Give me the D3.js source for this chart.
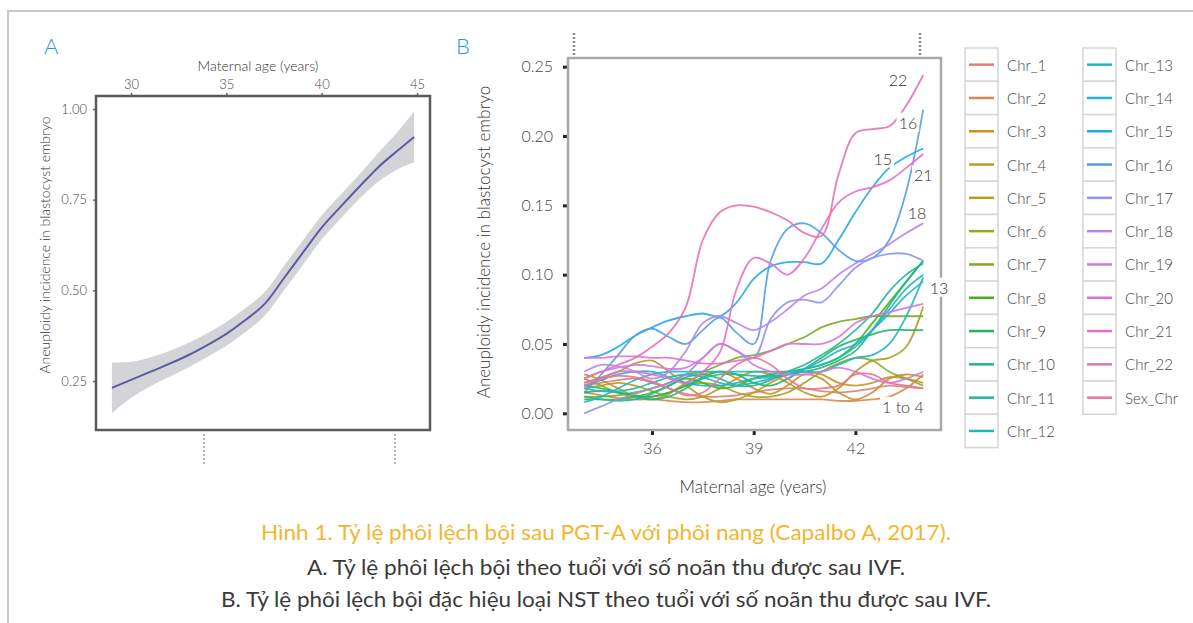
<!DOCTYPE html>
<html>
<head>
<meta charset="utf-8">
<script src="https://cdn.jsdelivr.net/npm/d3@7/dist/d3.min.js"></script>
<style>
  body { margin: 0; background: #fff; }
  text { font-family: Lato, 'Open Sans', sans-serif; }
</style>
</head>
<body>
<svg id="fig"></svg>
<script>
const width = 1193;
const height = 623;

// ---- panel A data (overall aneuploidy vs maternal age) ----
const agesA = [29, 30, 31, 32, 33, 34, 35, 36, 37, 38, 39, 40, 41, 42, 43, 44, 44.85];
const rateA = [0.231, 0.253, 0.275, 0.297, 0.321, 0.349, 0.380, 0.418, 0.462, 0.532, 0.603, 0.673, 0.731, 0.787, 0.841, 0.886, 0.923];
const bandA = [0.070, 0.050, 0.040, 0.036, 0.034, 0.033, 0.033, 0.033, 0.033, 0.034, 0.034, 0.033, 0.033, 0.034, 0.040, 0.052, 0.070];
const ticksAx = [30, 35, 40, 45];
const ticksAy = [0.25, 0.50, 0.75, 1.00];

// ---- panel B data (chromosome specific aneuploidy) ----
const agesB = [34, 34.5, 35, 35.5, 36, 36.5, 37, 37.5, 38, 38.5, 39, 39.5, 40, 40.5, 41, 41.5, 42, 42.5, 43, 43.5, 44];
const chr1  = [0.020, 0.022, 0.024, 0.025, 0.022, 0.018, 0.014, 0.012, 0.012, 0.013, 0.015, 0.017, 0.018, 0.018, 0.016, 0.015, 0.016, 0.018, 0.020, 0.019, 0.018];
const chr2  = [0.015, 0.013, 0.011, 0.010, 0.010, 0.009, 0.008, 0.008, 0.009, 0.010, 0.010, 0.010, 0.010, 0.010, 0.010, 0.009, 0.009, 0.010, 0.012, 0.018, 0.028];
const chr3  = [0.028, 0.024, 0.018, 0.012, 0.010, 0.014, 0.022, 0.028, 0.030, 0.025, 0.018, 0.014, 0.020, 0.028, 0.025, 0.015, 0.010, 0.015, 0.025, 0.028, 0.026];
const chr4  = [0.022, 0.026, 0.030, 0.036, 0.038, 0.030, 0.020, 0.012, 0.008, 0.010, 0.015, 0.022, 0.028, 0.030, 0.028, 0.022, 0.020, 0.022, 0.026, 0.025, 0.022];
const chr5  = [0.018, 0.020, 0.022, 0.020, 0.016, 0.012, 0.010, 0.012, 0.018, 0.025, 0.030, 0.028, 0.022, 0.015, 0.012, 0.018, 0.030, 0.038, 0.040, 0.048, 0.077];
const chr6  = [0.025, 0.020, 0.015, 0.012, 0.012, 0.015, 0.020, 0.022, 0.020, 0.015, 0.012, 0.012, 0.015, 0.022, 0.030, 0.036, 0.040, 0.038, 0.030, 0.025, 0.020];
const chr7  = [0.012, 0.012, 0.013, 0.015, 0.018, 0.022, 0.028, 0.030, 0.035, 0.040, 0.042, 0.045, 0.050, 0.055, 0.062, 0.066, 0.068, 0.070, 0.070, 0.070, 0.070];
const chr8  = [0.010, 0.010, 0.010, 0.012, 0.015, 0.020, 0.025, 0.022, 0.018, 0.020, 0.025, 0.028, 0.030, 0.032, 0.035, 0.040, 0.050, 0.065, 0.080, 0.095, 0.110];
const chr9  = [0.015, 0.016, 0.015, 0.013, 0.012, 0.015, 0.020, 0.026, 0.030, 0.028, 0.022, 0.020, 0.025, 0.032, 0.040, 0.048, 0.053, 0.057, 0.060, 0.060, 0.060];
const chr10 = [0.020, 0.018, 0.015, 0.012, 0.010, 0.012, 0.018, 0.025, 0.028, 0.028, 0.027, 0.027, 0.028, 0.030, 0.033, 0.038, 0.045, 0.060, 0.078, 0.095, 0.110];
const chr11 = [0.012, 0.010, 0.009, 0.010, 0.014, 0.020, 0.026, 0.028, 0.025, 0.020, 0.020, 0.024, 0.030, 0.035, 0.042, 0.050, 0.060, 0.072, 0.088, 0.100, 0.108];
const chr12 = [0.018, 0.016, 0.016, 0.018, 0.022, 0.026, 0.028, 0.026, 0.022, 0.020, 0.022, 0.025, 0.028, 0.032, 0.035, 0.040, 0.048, 0.060, 0.075, 0.090, 0.100];
const chr13 = [0.008, 0.012, 0.018, 0.024, 0.028, 0.030, 0.030, 0.030, 0.030, 0.030, 0.030, 0.030, 0.030, 0.030, 0.030, 0.035, 0.040, 0.042, 0.050, 0.070, 0.098];
const chr14 = [0.020, 0.024, 0.028, 0.030, 0.030, 0.026, 0.022, 0.020, 0.020, 0.022, 0.025, 0.026, 0.028, 0.032, 0.038, 0.045, 0.050, 0.060, 0.072, 0.085, 0.095];
const chr15 = [0.040, 0.042, 0.048, 0.056, 0.062, 0.067, 0.070, 0.072, 0.070, 0.080, 0.097, 0.106, 0.109, 0.109, 0.108, 0.125, 0.145, 0.163, 0.177, 0.185, 0.191];
const chr16 = [0.015, 0.028, 0.042, 0.056, 0.061, 0.055, 0.050, 0.060, 0.069, 0.058, 0.050, 0.110, 0.133, 0.137, 0.130, 0.118, 0.110, 0.112, 0.125, 0.160, 0.219];
const chr17 = [0.000, 0.005, 0.010, 0.014, 0.018, 0.022, 0.028, 0.040, 0.050, 0.045, 0.040, 0.068, 0.080, 0.082, 0.080, 0.092, 0.105, 0.112, 0.115, 0.115, 0.110];
const chr18 = [0.030, 0.035, 0.034, 0.030, 0.025, 0.030, 0.045, 0.065, 0.070, 0.065, 0.060, 0.066, 0.075, 0.085, 0.090, 0.100, 0.108, 0.115, 0.122, 0.130, 0.137];
const chr19 = [0.025, 0.030, 0.033, 0.035, 0.034, 0.032, 0.033, 0.040, 0.050, 0.045, 0.035, 0.030, 0.028, 0.028, 0.030, 0.033, 0.030, 0.025, 0.022, 0.025, 0.030];
const chr20 = [0.040, 0.040, 0.041, 0.041, 0.040, 0.040, 0.038, 0.036, 0.036, 0.038, 0.040, 0.045, 0.050, 0.050, 0.050, 0.055, 0.065, 0.070, 0.073, 0.076, 0.079];
const chr21 = [0.020, 0.025, 0.030, 0.030, 0.028, 0.025, 0.022, 0.030, 0.044, 0.090, 0.112, 0.108, 0.100, 0.112, 0.133, 0.152, 0.160, 0.163, 0.168, 0.177, 0.187];
const chr22 = [0.025, 0.030, 0.035, 0.040, 0.048, 0.058, 0.077, 0.125, 0.145, 0.150, 0.149, 0.145, 0.139, 0.130, 0.128, 0.172, 0.202, 0.205, 0.207, 0.222, 0.244];
const sexChr = [0.022, 0.025, 0.027, 0.026, 0.023, 0.018, 0.013, 0.015, 0.025, 0.035, 0.040, 0.035, 0.025, 0.018, 0.018, 0.020, 0.028, 0.028, 0.022, 0.020, 0.018];

const seriesNames = ['Chr_1', 'Chr_2', 'Chr_3', 'Chr_4', 'Chr_5', 'Chr_6', 'Chr_7', 'Chr_8', 'Chr_9', 'Chr_10', 'Chr_11', 'Chr_12',
  'Chr_13', 'Chr_14', 'Chr_15', 'Chr_16', 'Chr_17', 'Chr_18', 'Chr_19', 'Chr_20', 'Chr_21', 'Chr_22', 'Sex_Chr'];
const seriesValues = [chr1, chr2, chr3, chr4, chr5, chr6, chr7, chr8, chr9, chr10, chr11, chr12,
  chr13, chr14, chr15, chr16, chr17, chr18, chr19, chr20, chr21, chr22, sexChr];
const ticksBx = [36, 39, 42];
const ticksBy = [0, 0.05, 0.10, 0.15, 0.20, 0.25];

// direct labels on panel B, in data units
const labelsB = [
  { text: '22', age: 43.26, value: 0.241 },
  { text: '16', age: 43.55, value: 0.210 },
  { text: '15', age: 42.81, value: 0.184 },
  { text: '21', age: 44.0, value: 0.172 },
  { text: '18', age: 43.82, value: 0.145 },
  { text: '13', age: 44.47, value: 0.091 },
  { text: '1 to 4', age: 43.4, value: 0.005 }
];

const captionLines = [
  'Hình 1. Tỷ lệ phôi lệch bội sau PGT-A với phôi nang (Capalbo A, 2017).',
  'A. Tỷ lệ phôi lệch bội theo tuổi với số noãn thu được sau IVF.',
  'B. Tỷ lệ phôi lệch bội đặc hiệu loại NST theo tuổi với số noãn thu được sau IVF.'
];

// ggplot-like hue palette (polar LUV, c=100, l=65)
function hueColor(h) {
  const L = 65, C = 100;
  const hr = h * Math.PI / 180;
  const U = C * Math.cos(hr), V = C * Math.sin(hr);
  const Xn = 95.047, Yn = 100, Zn = 108.883;
  const den = Xn + 15 * Yn + 3 * Zn;
  const un = 4 * Xn / den, vn = 9 * Yn / den;
  const Y = Yn * Math.pow((L + 16) / 116, 3);
  const u = U / (13 * L) + un, v = V / (13 * L) + vn;
  const X = 9 * Y * u / (4 * v);
  const Z = -X / 3 - 5 * Y + 3 * Y / v;
  const x = X / 100, y = Y / 100, z = Z / 100;
  const lin = [
    3.2404542 * x - 1.5371385 * y - 0.4985314 * z,
    -0.9692660 * x + 1.8760108 * y + 0.0415560 * z,
    0.0556434 * x - 0.2040259 * y + 1.0572252 * z
  ];
  const rgb = lin.map(c => {
    const g = c <= 0.0031308 ? 12.92 * c : 1.055 * Math.pow(c, 1 / 2.4) - 0.055;
    return Math.round(255 * Math.max(0, Math.min(1, g)));
  });
  // the printed figure is a bit washed out, so pull toward grey
  return d3.interpolateRgb(d3.rgb(rgb[0], rgb[1], rgb[2]), '#9a9a9a')(0.22);
}
const n = seriesNames.length;
const colors = seriesNames.map((d, i) => hueColor(15 + i * 360 / n));
const colorScale = d3.scaleOrdinal(colors).domain(seriesNames);

const svg = d3.select('#fig')
  .attr('width', width)
  .attr('height', height);

// outer frame
svg.append('rect')
  .attr('x', 8).attr('y', 11)
  .attr('width', 1200).attr('height', 700)
  .attr('fill', 'none')
  .attr('stroke', '#c9c9c9')
  .attr('stroke-width', 2);

// ================= Panel A =================
const boxA = { left: 96, right: 430, top: 96, bottom: 430 };
const xA = d3.scaleLinear().domain([30, 45]).range([131, 417]);
const yA = d3.scaleLinear().domain([0.25, 1.0]).range([381, 109]);

const gA = svg.append('g');

gA.append('text')
  .attr('x', 44).attr('y', 54)
  .attr('font-size', 22)
  .attr('font-weight', 300)
  .attr('fill', '#1f9ccf')
  .text('A');

const rowsA = agesA.map((a, i) => ({ age: a, v: rateA[i], lo: rateA[i] - bandA[i], hi: rateA[i] + bandA[i] }));

gA.append('path')
  .datum(rowsA)
  .attr('fill', '#d4d4d8')
  .attr('d', d3.area()
    .curve(d3.curveCatmullRom)
    .x(d => xA(d.age))
    .y0(d => yA(d.lo))
    .y1(d => yA(d.hi)));

gA.append('path')
  .datum(rowsA)
  .attr('fill', 'none')
  .attr('stroke', '#5a5ca3')
  .attr('stroke-width', 2)
  .attr('d', d3.line()
    .curve(d3.curveCatmullRom)
    .x(d => xA(d.age))
    .y(d => yA(d.v)));

const axAx = gA.append('g')
  .attr('transform', `translate(0,${boxA.top})`)
  .call(d3.axisTop(xA).tickValues(ticksAx).tickSize(3).tickPadding(4));
const axAy = gA.append('g')
  .attr('transform', `translate(${boxA.left},0)`)
  .call(d3.axisLeft(yA).tickValues(ticksAy).tickFormat(d3.format('.2f')).tickSize(3).tickPadding(6));
[axAx, axAy].forEach(ax => {
  ax.select('.domain').remove();
  ax.selectAll('line').attr('stroke', '#666').attr('stroke-width', 1.5);
  ax.selectAll('text').attr('font-size', 13).attr('fill', '#444')
    .attr('font-weight', 300)
    .style('font-family', 'Lato, sans-serif');
});

gA.append('rect')
  .attr('x', boxA.left).attr('y', boxA.top)
  .attr('width', boxA.right - boxA.left)
  .attr('height', boxA.bottom - boxA.top)
  .attr('fill', 'none')
  .attr('stroke', '#5a5a5a')
  .attr('stroke-width', 2.5);

gA.append('text')
  .attr('x', 258).attr('y', 71)
  .attr('text-anchor', 'middle')
  .attr('font-size', 14)
  .attr('font-weight', 300)
  .attr('fill', '#333')
  .text('Maternal age (years)');

gA.append('text')
  .attr('transform', 'translate(50,245) rotate(-90)')
  .attr('text-anchor', 'middle')
  .attr('font-size', 14)
  .attr('font-weight', 300)
  .attr('fill', '#333')
  .text('Aneuploidy incidence in blastocyst embryo');

// little dotted leftovers under panel A
[204, 395].forEach(x => {
  gA.append('line')
    .attr('x1', x).attr('x2', x)
    .attr('y1', 434).attr('y2', 466)
    .attr('stroke', '#b5b5b5')
    .attr('stroke-width', 2)
    .attr('stroke-dasharray', '2,2');
});

// ================= Panel B =================
const boxB = { left: 568, right: 941, top: 58, bottom: 430 };
const xB = d3.scaleLinear().domain([36, 42]).range([652, 855.4]);
const yB = d3.scaleLinear().domain([0, 0.25]).range([413.3, 66.7]);

const gB = svg.append('g');

gB.append('text')
  .attr('x', 456).attr('y', 54)
  .attr('font-size', 22)
  .attr('font-weight', 300)
  .attr('fill', '#1f9ccf')
  .text('B');

[574, 920].forEach(x => {
  gB.append('line')
    .attr('x1', x).attr('x2', x)
    .attr('y1', 33).attr('y2', 57)
    .attr('stroke', '#8a8a8a')
    .attr('stroke-width', 2.5)
    .attr('stroke-dasharray', '2,2');
});

const axBx = gB.append('g')
  .attr('transform', `translate(0,${boxB.bottom})`)
  .call(d3.axisBottom(xB).tickValues(ticksBx).tickFormat(d3.format('d')).tickSize(5).tickPadding(8));
const axBy = gB.append('g')
  .attr('transform', `translate(${boxB.left},0)`)
  .call(d3.axisLeft(yB).tickValues(ticksBy).tickFormat(d3.format('.2f')).tickSize(5).tickPadding(10));
[axBx, axBy].forEach(ax => {
  ax.select('.domain').remove();
  ax.selectAll('line').attr('stroke', '#222').attr('stroke-width', 3);
  ax.selectAll('text').attr('font-size', 16).attr('fill', '#444')
    .attr('font-weight', 300)
    .style('font-family', 'Lato, sans-serif');
});

gB.append('rect')
  .attr('x', boxB.left).attr('y', boxB.top)
  .attr('width', boxB.right - boxB.left)
  .attr('height', boxB.bottom - boxB.top)
  .attr('fill', 'none')
  .attr('stroke', '#a9a9a9')
  .attr('stroke-width', 2.5);

const lineB = d3.line()
  .curve(d3.curveCatmullRom)
  .x(d => xB(d.age))
  .y(d => yB(d.v));

const seriesB = seriesNames.map((name, i) => ({
  name,
  points: agesB.map((a, j) => ({ age: a, v: seriesValues[i][j] }))
}));

gB.append('g')
  .selectAll('path')
  .data(seriesB)
  .enter()
  .append('path')
  .attr('fill', 'none')
  .attr('stroke', d => colorScale(d.name))
  .attr('stroke-width', 1.8)
  .attr('stroke-opacity', 0.9)
  .attr('d', d => lineB(d.points));

// direct labels with white backing
const labG = gB.append('g');
labelsB.forEach(l => {
  const t = labG.append('text')
    .attr('x', xB(l.age)).attr('y', yB(l.value))
    .attr('text-anchor', 'middle')
    .attr('dominant-baseline', 'central')
    .attr('font-size', 16)
    .attr('font-weight', 300)
    .attr('fill', '#333')
    .text(l.text);
  const bb = t.node().getBBox();
  labG.insert('rect', () => t.node())
    .attr('x', bb.x - 2).attr('y', bb.y)
    .attr('width', bb.width + 4).attr('height', bb.height)
    .attr('fill', '#fff');
});

gB.append('text')
  .attr('x', 753).attr('y', 493)
  .attr('text-anchor', 'middle')
  .attr('font-size', 17)
  .attr('font-weight', 300)
  .attr('fill', '#333')
  .text('Maternal age (years)');

gB.append('text')
  .attr('transform', 'translate(490,242) rotate(-90)')
  .attr('text-anchor', 'middle')
  .attr('font-size', 17)
  .attr('font-weight', 300)
  .attr('fill', '#333')
  .text('Aneuploidy incidence in blastocyst embryo');

// ---- legend ----
const legendCols = [
  { x: 965, names: seriesNames.slice(0, 12) },
  { x: 1083, names: seriesNames.slice(12) }
];
const keySize = 33.3;
const legTop = 48;
legendCols.forEach(col => {
  const rows = svg.append('g')
    .selectAll('g')
    .data(col.names)
    .enter()
    .append('g')
    .attr('transform', (d, i) => `translate(${col.x},${legTop + i * keySize})`);
  rows.append('rect')
    .attr('width', 33).attr('height', keySize)
    .attr('fill', '#fff')
    .attr('stroke', '#d6d6d6')
    .attr('stroke-width', 1.5);
  rows.append('line')
    .attr('x1', 4).attr('x2', 29)
    .attr('y1', keySize / 2).attr('y2', keySize / 2)
    .attr('stroke', d => colorScale(d))
    .attr('stroke-width', 2.5);
  rows.append('text')
    .attr('x', 42).attr('y', keySize / 2)
    .attr('dominant-baseline', 'central')
    .attr('font-size', 15)
    .attr('font-weight', 300)
    .attr('fill', '#444')
    .text(d => d);
});

// ---- caption ----
const capY = [540, 575, 607];
const capW = [690, 598, 770];
captionLines.forEach((line, i) => {
  svg.append('text')
    .attr('x', 606).attr('y', capY[i])
    .attr('text-anchor', 'middle')
    .attr('font-size', 22)
    .attr('textLength', capW[i])
    .attr('lengthAdjust', 'spacingAndGlyphs')
    .attr('fill', i === 0 ? '#f2b630' : '#3a3a3a')
    .text(line);
});
</script>
</body>
</html>
